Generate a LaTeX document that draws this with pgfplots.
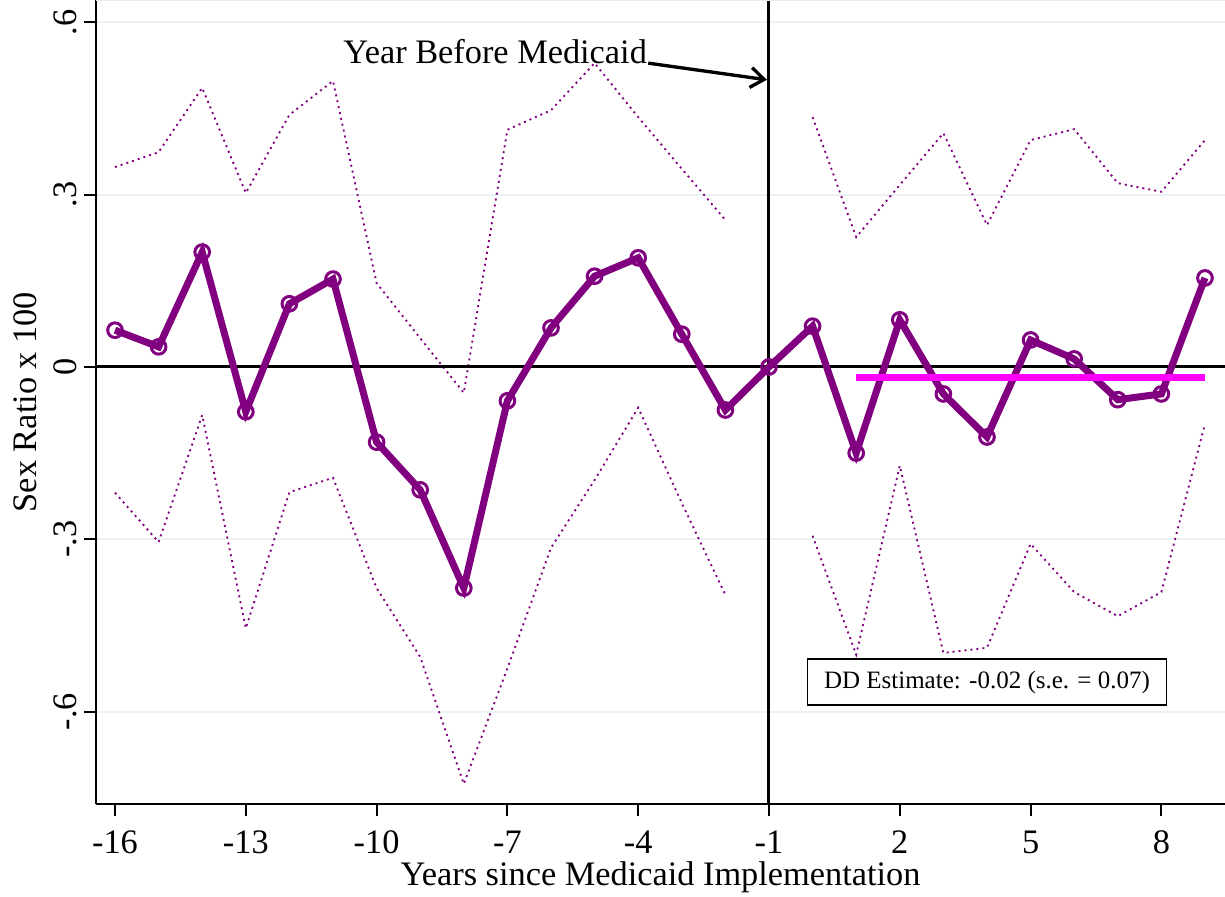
\documentclass[border=0pt]{standalone}
\usepackage{pgfplots}
\pgfplotsset{compat=1.18}
\usepackage{fontspec}
\setmainfont{Liberation Serif}
\usetikzlibrary{arrows.meta}
\definecolor{stpurple}{RGB}{128,0,128}
\definecolor{stmagenta}{RGB}{255,0,255}
\definecolor{gridc}{RGB}{234,242,243}

\begin{document}
\begin{tikzpicture}
\useasboundingbox (-28.8pt,-27.9pt) rectangle (338.7pt,241.2pt);
\begin{axis}[
  at={(0,0)}, anchor=south west,
  scale only axis, width=338.7pt, height=241.2pt,
  xmin=-16.436, xmax=9.459, ymin=-0.761, ymax=0.639,
  axis x line*=bottom, axis y line*=left,
  axis line style={line width=0.6pt, -},
  xtick={-16,-13,-10,-7,-4,-1,2,5,8},
  xticklabels={-16,-13,-10,-7,-4,-1,2,5,8},
  ytick={-0.6,-0.3,0,0.3,0.6},
  yticklabels={-.6,-.3,0,.3,.6},
  tick align=outside, major tick length=3.6pt,
  tick style={line width=0.6pt, black},
  ymajorgrids, grid style={gridc, line width=0.6pt},
  tick label style={font=\fontsize{10.3}{12}\selectfont},
  xticklabel style={anchor=north, inner sep=0pt},
  yticklabel style={rotate=90, anchor=south, inner sep=0pt},
  xticklabel shift=4.2pt, yticklabel shift=2pt,
  xlabel={Years since Medicaid Implementation},
  ylabel={Sex Ratio x 100},
  label style={font=\fontsize{10.3}{12}\selectfont},
  xlabel style={at={(axis description cs:0.5,-0.0908)}, anchor=center},
  ylabel style={at={(axis description cs:-0.0629,0.5)}, anchor=center},
  clip=false,
]
% upper CI
\addplot[stpurple, line width=0.55pt, dash pattern=on 0.6pt off 1.2pt] coordinates {
(-16,0.348) (-15,0.374) (-14,0.486) (-13,0.303) (-12,0.439) (-11,0.498)
(-10,0.146) (-9,0.050) (-8,-0.045) (-7,0.413) (-6,0.447) (-5,0.529)
(-4,0.435) (-3,0.345) (-2,0.256)};
\addplot[stpurple, line width=0.55pt, dash pattern=on 0.6pt off 1.2pt] coordinates {
(0,0.435) (1,0.226) (2,0.317) (3,0.407) (4,0.247) (5,0.395)
(6,0.414) (7,0.320) (8,0.305) (9,0.395)};
% lower CI
\addplot[stpurple, line width=0.55pt, dash pattern=on 0.6pt off 1.2pt] coordinates {
(-16,-0.219) (-15,-0.305) (-14,-0.084) (-13,-0.455) (-12,-0.218) (-11,-0.193)
(-10,-0.385) (-9,-0.505) (-8,-0.726) (-7,-0.525) (-6,-0.315) (-5,-0.197)
(-4,-0.071) (-3,-0.237) (-2,-0.397)};
\addplot[stpurple, line width=0.55pt, dash pattern=on 0.6pt off 1.2pt] coordinates {
(0,-0.294) (1,-0.501) (2,-0.172) (3,-0.498) (4,-0.489) (5,-0.308)
(6,-0.392) (7,-0.434) (8,-0.392) (9,-0.099)};
% reference lines
\addplot[black, line width=0.9pt] coordinates {(-16.436,0) (9.459,0)};
\addplot[black, line width=0.9pt] coordinates {(-1,-0.761) (-1,0.639)};
% main estimates
\addplot[stpurple, line width=2.1pt, mark=o,
  mark options={line width=0.9pt, fill=white, scale=1.1}] coordinates {
(-16,0.064) (-15,0.035) (-14,0.200) (-13,-0.078) (-12,0.110) (-11,0.153)
(-10,-0.131) (-9,-0.214) (-8,-0.385) (-7,-0.059) (-6,0.068) (-5,0.158)
(-4,0.190) (-3,0.057) (-2,-0.075) (-1,0) (0,0.071) (1,-0.150)
(2,0.082) (3,-0.047) (4,-0.122) (5,0.047) (6,0.014) (7,-0.057)
(8,-0.047) (9,0.155)};
% DD estimate
\addplot[stmagenta, line width=2.1pt] coordinates {(1,-0.019) (9,-0.019)};
% annotations
\node[font=\fontsize{10.3}{12}\selectfont] at (axis cs:-7.28,0.549) {Year Before Medicaid};
\draw[line width=1pt, -{Straight Barb[length=4pt,width=6pt]}] (axis cs:-3.77,0.529) -- (axis cs:-1.05,0.50);
\node[draw, line width=0.5pt, fill=white, font=\fontsize{7.5}{9}\selectfont,
  inner xsep=5pt, minimum height=13.8pt] at (axis cs:4.0,-0.549)
  {DD Estimate: -0.02 (s.e. = 0.07)};
\draw[black!8, line width=0.6pt] (rel axis cs:0,1) -- (rel axis cs:1,1);
\end{axis}
\end{tikzpicture}
\end{document}
